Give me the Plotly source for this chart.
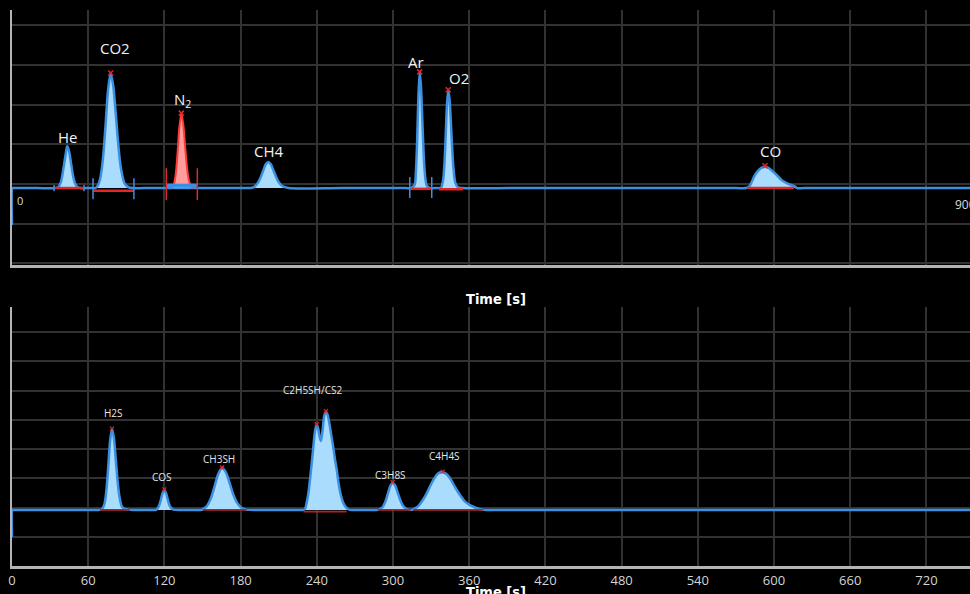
import plotly.graph_objects as go

# ---------------- Top chromatogram (permanent gases) ----------------
top_time = [0, 0.3, 0.8, 3, 20, 34,
            36.5, 38.5, 40, 42, 43.5, 45, 46.5, 48, 49.5, 51.5, 54,
            60, 64,
            65.5, 67.7, 69.7, 71.7, 73.7, 75.7, 77.7, 79.7, 81.7, 83.7, 85.7, 88.7, 92, 95,
            110, 160, 185,
            188, 190.8, 193.8, 195.8, 197.8, 199.8, 201.8, 203.8, 205.8, 207.8, 209.8, 212.8, 217.8,
            260, 310,
            314, 317, 318, 319, 320, 321, 322, 323, 324, 325, 326.5, 329,
            333,
            336.5, 338, 339.5, 340.5, 341.5, 342.5, 343.5, 344.5, 345.5, 346.5, 347.5, 349, 351, 354,
            400, 570,
            578, 580.5, 582.5, 584.5, 587, 590, 593, 596, 599, 602.4, 606, 610.3, 614, 616.5, 618,
            624, 700, 760]
top_signal = [-9.3, 0, 0, 0, 0, 0,
              0.3, 1.5, 3.9, 8.0, 10.6, 9.2, 6.2, 3.2, 1.3, 0.3, 0,
              0, 0,
              0, 0.7, 2.8, 7.7, 16, 24.9, 28.8, 25.8, 18.7, 10.9, 5.1, 1.1, 0.2, 0,
              0, 0, 0,
              0, 0.3, 1.4, 2.7, 4.4, 6.0, 6.6, 6.0, 4.5, 2.9, 1.6, 0.5, 0,
              0, 0,
              0, 0.8, 3.9, 11.9, 23.3, 29.1, 25.7, 17.7, 9.5, 3.9, 0.7, 0,
              0,
              0, 0.2, 2.1, 6.1, 13.3, 21.1, 24.6, 22.4, 16.9, 10.5, 5.4, 1.4, 0.2, 0,
              0, 0,
              0, 0.4, 1.6, 3.0, 4.2, 5.1, 5.4, 5.0, 4.2, 3.2, 2.0, 1.2, 0.7, 0.4, 0,
              0, 0, 0]

n2_time = [125.3, 127.3, 128.8, 130.3, 131.8, 133.3, 134.8, 136.3, 137.8, 139.3, 141.3, 143.3]
n2_signal = [0, 0.8, 3.2, 8.6, 15.4, 18.7, 16.2, 10.5, 5.1, 1.9, 0.3, 0]

top_labels = ["He", "CO2", "N<sub>2</sub>", "CH4", "Ar", "O2", "CO"]
top_label_time = [43.8, 81.3, 134.1, 202.1, 318.1, 351.6, 597.1]
top_label_level = [12.8, 35.2, 22.3, 9.3, 31.9, 27.7, 9.3]

top_apex_time = [77.7, 133.3, 321, 343.5, 592.9]
top_apex_level = [29.0, 18.9, 29.3, 24.8, 5.6]

top_int_start = [33.1, 63.8, 314.0, 336.2, 578.7]
top_int_end = [56.7, 96.0, 329.8, 355.1, 615.8]
top_int_level = [0, -0.7, -0.2, -0.3, 0]

top_tick_time = [33.1, 56.7, 63.8, 96.0, 313.2, 330.5]
top_tick_low = [-0.8, -0.8, -2.8, -2.8, -2.5, -2.5]
top_tick_high = [0.8, 0.8, 2.5, 2.5, 2.8, 2.8]
n2_tick_time = [121.5, 145.9]
n2_tick_low = [-3.0, -3.0]
n2_tick_high = [5.0, 5.0]

# ---------------- Bottom chromatogram (sulfur compounds) ----------------
bot_time = [0, 0.3, 0.8, 3, 30, 66,
            69.5, 70.7, 72.7, 74.2, 75.7, 77.2, 78.7, 80.2, 81.7, 83.2, 84.7, 86.7, 89.7, 92.7,
            100, 110,
            113.4, 115.4, 116.9, 118.4, 119.9, 121.4, 122.9, 124.4, 126.4, 128.4,
            140, 147,
            149.4, 150.4, 153.4, 156.4, 159.4, 162.4, 165.4, 168.4, 171.4, 174.4, 177.4, 180.4, 184.4, 186,
            210, 226,
            229.5, 230.7, 232, 233.3, 234.6, 236, 237.3, 238.6, 239.9, 241, 242.3, 243.3, 244.5, 245.8,
            247.2, 248.5, 249.9, 251.4, 253, 254.4, 255.7, 257, 258.3, 259.6, 260.9, 263.5, 266,
            275, 285,
            288.5, 289.2, 291.7, 293.7, 295.7, 297.7, 299.7, 301.7, 303.7, 305.7, 307.7, 310.7, 313.7,
            315, 317, 320, 322.6, 326, 329.1, 331.8, 334.4, 336.8, 339.1, 342, 344.9, 347.5, 350.2,
            353.5, 356.7, 360.5, 364.6, 368, 371.1,
            378, 450, 760]
bot_signal = [-9.3, 0, 0, 0, 0, 0,
              0, 0.2, 1.9, 6.2, 14.2, 23.4, 27.6, 24.6, 17.3, 9.6, 4.3, 1.0, 0.2, 0,
              0, 0,
              0, 1.0, 2.9, 5.5, 6.8, 5.6, 3.1, 1.2, 0.2, 0,
              0, 0,
              0, 0.3, 1.3, 3.7, 7.9, 12.3, 14.3, 12.8, 9.1, 5.1, 2.3, 0.8, 0.1, 0,
              0, 0,
              0, 0.3, 2.4, 5.5, 10.3, 16, 21.6, 27, 29.1, 28, 24.8, 23.6, 27, 32,
              33.6, 32.5, 29.5, 25.5, 21.2, 17, 13.7, 9.5, 6.3, 4, 2.3, 0.6, 0,
              0, 0,
              0, 0.2, 0.9, 2.5, 5.2, 8.0, 9.3, 8.3, 5.9, 3.4, 1.5, 0.3, 0,
              0, 0.4, 1.3, 2.8, 5.2, 8.0, 10.3, 12.0, 12.8, 12.9, 12.3, 10.8, 8.8, 6.8,
              4.6, 2.8, 1.6, 0.8, 0.3, 0,
              0, 0, 0]

bot_labels = ["H2S", "COS", "CH3SH", "C2H5SH/CS2", "C3H8S", "C4H4S"]
bot_label_time = [80.2, 118.3, 163.1, 236.6, 298.4, 340.2]
bot_label_level = [33.3, 11.1, 17.4, 40.9, 11.9, 18.4]

bot_apex_time = [78.7, 119.9, 165.4, 239.9, 247.2, 299.7, 339.1]
bot_apex_level = [27.8, 7.0, 14.5, 29.3, 33.8, 9.5, 13.1]

bot_int_start = [69.3, 150.6, 229.4, 288.0, 316.0]
bot_int_end = [92.9, 184.8, 263.5, 314.0, 371.0]
bot_int_level = [0, 0, -0.6, 0, 0]

time_ticks = [0, 60, 120, 180, 240, 300, 360, 420, 480, 540, 600, 660, 720]

# ---------------- styling ----------------
BLUE = "#3b8fe0"
FILL = "#a9dcfd"
RED = "#e0282c"
GRID = "#323232"
AXIS = "#b4b4b4"
FONT = "Open Sans, Noto Sans, sans-serif"
NARROW = "Liberation Sans Narrow, DejaVu Sans Condensed, Roboto, sans-serif"


def segments(starts, ends, lows, highs):
    xs, ys = [], []
    for s, e, lo, hi in zip(starts, ends, lows, highs):
        xs += [s, e, None]
        ys += [lo, hi, None]
    return xs, ys


fig = go.Figure()

# top panel
fig.add_trace(go.Scatter(x=top_time, y=top_signal, mode="lines",
                         line=dict(color=BLUE, width=2.5, shape="spline", smoothing=0.8),
                         fill="tozeroy", fillcolor=FILL, xaxis="x", yaxis="y"))
fig.add_trace(go.Scatter(x=n2_time, y=n2_signal, mode="lines",
                         line=dict(color="#ff3a3a", width=2, shape="spline", smoothing=0.8),
                         fill="tozeroy", fillcolor="#ff9c9c", xaxis="x", yaxis="y"))
xs, ys = segments(top_int_start, top_int_end, top_int_level, top_int_level)
fig.add_trace(go.Scatter(x=xs, y=ys, mode="lines", line=dict(color=RED, width=2.5),
                         xaxis="x", yaxis="y"))
fig.add_trace(go.Scatter(x=[n2_tick_time[0], n2_tick_time[1]], y=[0.6, 0.6], mode="lines",
                         line=dict(color=BLUE, width=4), xaxis="x", yaxis="y"))
xs, ys = segments(top_tick_time, top_tick_time, top_tick_low, top_tick_high)
fig.add_trace(go.Scatter(x=xs, y=ys, mode="lines", line=dict(color=BLUE, width=1.5),
                         xaxis="x", yaxis="y"))
xs, ys = segments(n2_tick_time, n2_tick_time, n2_tick_low, n2_tick_high)
fig.add_trace(go.Scatter(x=xs, y=ys, mode="lines", line=dict(color=RED, width=1.5),
                         xaxis="x", yaxis="y"))
fig.add_trace(go.Scatter(x=top_apex_time, y=top_apex_level, mode="markers",
                         marker=dict(symbol="x-thin", size=5, line=dict(color=RED, width=1.5)),
                         xaxis="x", yaxis="y"))

# bottom panel
fig.add_trace(go.Scatter(x=bot_time, y=bot_signal, mode="lines",
                         line=dict(color=BLUE, width=2.5, shape="spline", smoothing=0.8),
                         fill="tozeroy", fillcolor=FILL, xaxis="x2", yaxis="y2"))
xs, ys = segments(bot_int_start, bot_int_end, bot_int_level, bot_int_level)
fig.add_trace(go.Scatter(x=xs, y=ys, mode="lines", line=dict(color="#b02428", width=1.8),
                         xaxis="x2", yaxis="y2"))
fig.add_trace(go.Scatter(x=bot_apex_time, y=bot_apex_level, mode="markers",
                         marker=dict(symbol="x-thin", size=4, line=dict(color=RED, width=1.2)),
                         xaxis="x2", yaxis="y2"))

annotations = []
for txt, t, v in zip(top_labels, top_label_time, top_label_level):
    annotations.append(dict(x=t, y=v, xref="x", yref="y", text=txt, showarrow=False,
                            font=dict(family=FONT, size=15, color="#f2f2f2")))
for txt, t, v in zip(bot_labels, bot_label_time, bot_label_level):
    annotations.append(dict(x=t, y=v, xref="x2", yref="y2", text=txt, showarrow=False,
                            font=dict(family=FONT, size=10, color="#e6e6e6")))

annotations += [
    dict(x=0.008, y=-3.2, xref="paper", yref="y", text="0", showarrow=False, xanchor="center",
         font=dict(family=FONT, size=11, color="#dcdcdc")),
    dict(x=(953 - 12) / 958, y=-4.2, xref="paper", yref="y", text="900", showarrow=False,
         xanchor="left", font=dict(family=FONT, size=12, color="#dcdcdc")),
    dict(x=(496 - 12) / 958, y=(566 - 299) / 556, xref="paper", yref="paper",
         text="<b>Time [s]</b>", showarrow=False, yanchor="middle",
         font=dict(family=NARROW, size=14.5, color="#ffffff")),
    dict(x=(496 - 12) / 958, y=(566 - 592) / 556, xref="paper", yref="paper",
         text="<b>Time [s]</b>", showarrow=False, yanchor="middle",
         font=dict(family=NARROW, size=14.5, color="#ffffff")),
]

axis_common = dict(showgrid=True, gridcolor=GRID, gridwidth=2, zeroline=False,
                   showline=True, linecolor=AXIS, ticks="")

fig.update_layout(
    width=970, height=594,
    margin=dict(l=12, r=0, t=10, b=28),
    paper_bgcolor="#000000", plot_bgcolor="#000000",
    showlegend=False,
    annotations=annotations,
    xaxis=dict(domain=[0, 1], range=[0, 754.3], tick0=0, dtick=60, showticklabels=False,
               anchor="y", linewidth=3, **axis_common),
    yaxis=dict(domain=[0.5414, 1], range=[-19.4, 44.9], tick0=1, dtick=10,
               showticklabels=False, anchor="x", linewidth=2, **axis_common),
    xaxis2=dict(domain=[0, 1], range=[0, 754.3], tickmode="array", tickvals=time_ticks,
                ticktext=[str(v) for v in time_ticks],
                tickfont=dict(family=FONT, size=13, color="#d4d4d4"),
                anchor="y2", linewidth=3, **axis_common),
    yaxis2=dict(domain=[0, 0.4658], range=[-19.2, 69.4], tick0=0.8, dtick=10,
                showticklabels=False, anchor="x2", linewidth=2, **axis_common),
)

fig.write_html("out.html",
               config={"displayModeBar": False},
               post_script="document.body.style.margin='0';"
                           "document.body.style.overflow='hidden';"
                           "document.body.style.background='#000';")
